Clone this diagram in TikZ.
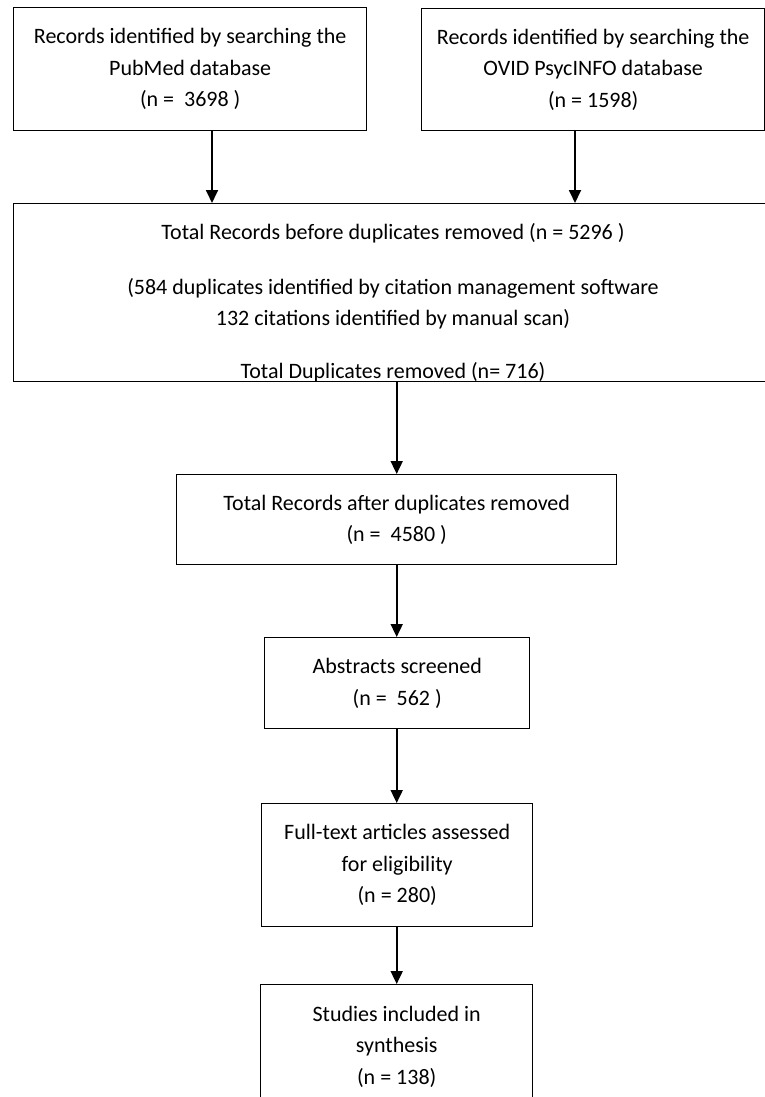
\documentclass[tikz,border=0pt]{standalone}
\usepackage{fontspec}
\setmainfont{Carlito}
\usetikzlibrary{arrows.meta}
\begin{document}
\begin{tikzpicture}[x=1pt,y=-1pt,
  box/.style={draw=black, line width=1.4pt, inner sep=0pt, align=center,
    font=\fontsize{22}{31.5}\selectfont, anchor=north west},
  txt/.style={inner sep=0pt, align=center, font=\fontsize{22}{31.5}\selectfont},
  arr/.style={draw=black, line width=1.8pt, -{Triangle[width=12pt,length=13pt]}}]
\useasboundingbox (0,0) rectangle (765,1097);
\clip (0,0) rectangle (765,1097);
\node[box, minimum width=353pt, minimum height=123pt] (b1) at (13,7)
  {Records identified by searching the\\PubMed database\\(n = \ 3698 )};
\node[box, minimum width=343pt, minimum height=122pt] (b2) at (421,8)
  {Records identified by searching the\\OVID PsycINFO database\\(n = 1598)};
\node[box, minimum width=760pt, minimum height=178pt] (b3) at (13,203) {};
\begin{scope}
  \clip (b3.south west) rectangle (b3.north east);
  \node[txt, anchor=north] (t3) at ([xshift=380pt,yshift=-20.5pt]b3.north west)
    {Total Records before duplicates removed (n = 5296 )\\[23pt]
     (584 duplicates identified by citation management software\\
     132 citations identified by manual scan)\\[21pt]
     Total Duplicates removed (n= 716)};
\end{scope}
\node[box, minimum width=440pt, minimum height=90pt] (b4) at (176,474)
  {Total Records after duplicates removed\\(n = \ 4580 )};
\node[box, minimum width=265pt, minimum height=91pt] (b5) at (264,637)
  {Abstracts screened\\(n = \ 562 )};
\node[box, minimum width=271pt, minimum height=123pt] (b6) at (261,803)
  {Full-text articles assessed\\for eligibility\\(n = 280)};
\node[box, minimum width=272pt, minimum height=124pt] (b7) at (260,984)
  {Studies included in\\synthesis\\(n = 138)};
\coordinate (a1) at ([xshift=199pt]b1.south west);
\coordinate (a2) at ([xshift=154pt]b2.south west);
\draw[arr] (a1) -- (a1 |- b3.north);
\draw[arr] (a2) -- (a2 |- b3.north);
\draw[arr] (b4.north |- b3.south) -- (b4.north);
\draw[arr] (b4.south) -- (b4.south |- b5.north);
\draw[arr] (b4.south |- b5.south) -- (b4.south |- b6.north);
\draw[arr] (b4.south |- b6.south) -- (b4.south |- b7.north);
\end{tikzpicture}
\end{document}
